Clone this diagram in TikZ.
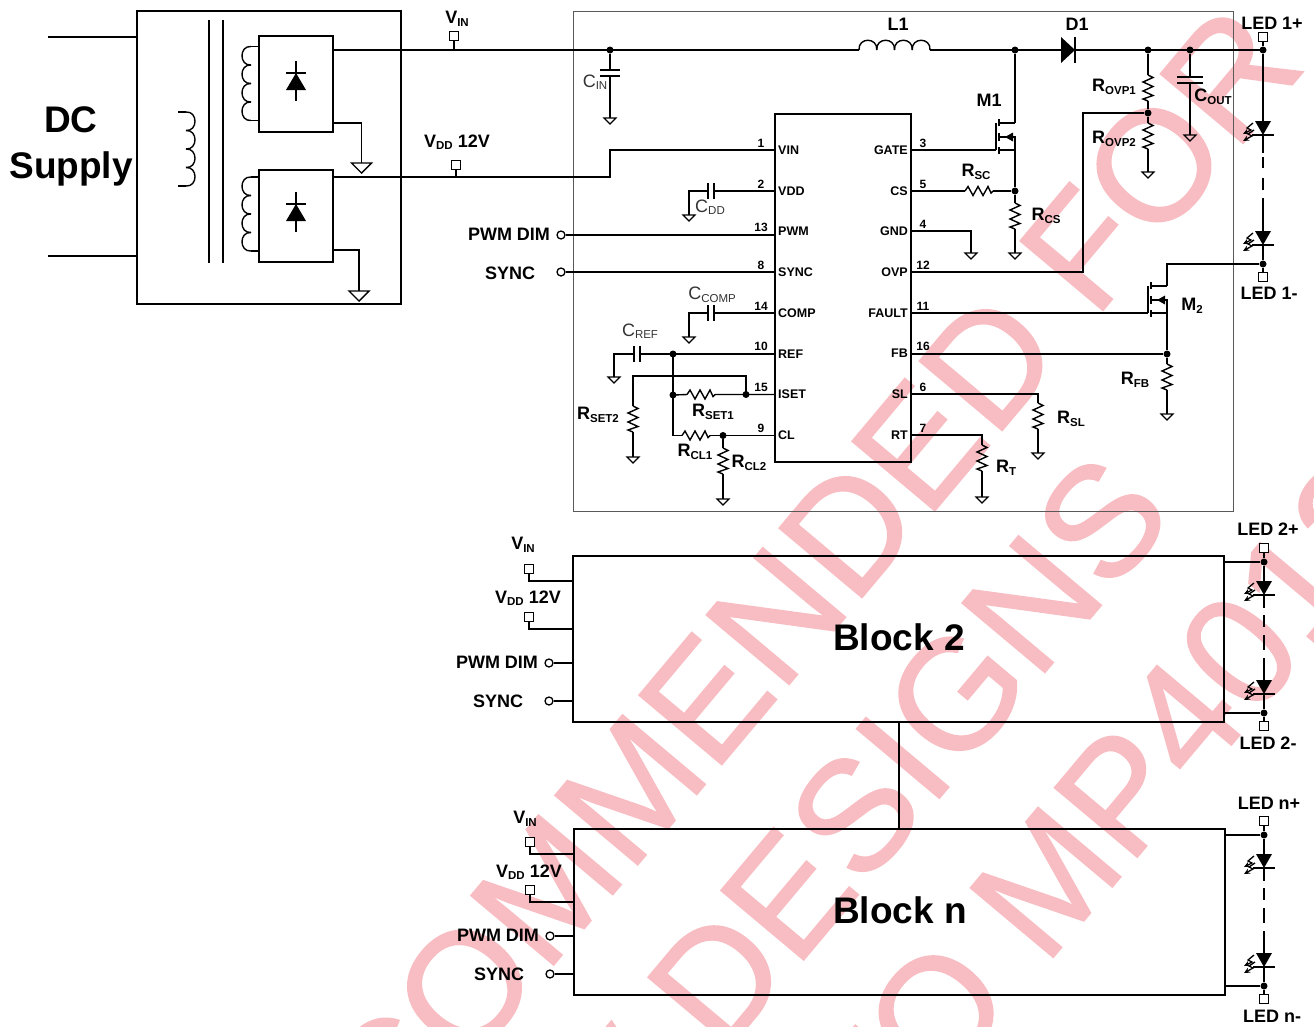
\documentclass[tikz,border=0pt]{standalone}
\usepackage{fontspec}
\setmainfont{Liberation Sans}
\newfontfamily\wmfont[FakeBold=1]{Liberation Sans}
\usetikzlibrary{arrows.meta}
\definecolor{wm}{HTML}{F8BDC2}
\newcommand\lb[2]{{\fontsize{18}{18}\selectfont #1\raisebox{-2.5pt}{\fontsize{11.5}{11.5}\selectfont #2}}}
\tikzset{
  wire/.style={line width=1.4pt,line join=miter,line cap=butt},
  dashw/.style={line width=1.8pt,line join=miter,line cap=butt},
  dot/.style={circle,fill=black,inner sep=0pt,minimum size=7pt},
  term/.style={rectangle,draw=black,fill=white,line width=1.4pt,inner sep=0pt,minimum size=9pt},
  pad/.style={circle,draw=black,fill=white,line width=1.3pt,inner sep=0pt,minimum size=8pt},
  box/.style={rectangle,draw=black,line width=1.4pt,inner sep=0pt},
  graybox/.style={rectangle,draw=black!65,line width=0.9pt,inner sep=0pt},
  lab/.style={inner sep=0pt,font=\bfseries\fontsize{18}{18}\selectfont},
  capl/.style={inner sep=0pt,text=black!80,font=\fontsize{18}{18}\selectfont},
  big/.style={inner sep=0pt,font=\bfseries\fontsize{37}{40}\selectfont,align=center},
  pinl/.style={inner sep=0pt,anchor=west,font=\bfseries\fontsize{12.5}{13}\selectfont},
  pinr/.style={inner sep=0pt,anchor=east,font=\bfseries\fontsize{12.5}{13}\selectfont},
  num/.style={inner sep=0pt,font=\bfseries\fontsize{12}{13}\selectfont},
  water/.style={inner sep=0pt,rotate=50,anchor=base east,text=wm,font=\wmfont\fontsize{157}{157}\selectfont},
  resv/.pic={\coordinate (-a) at (0,-13); \coordinate (-b) at (0,13);
    \draw[wire] (0,-13) -- (5,-10.5) -- (-5,-6) -- (5,-1.5) -- (-5,3) -- (5,7.5) -- (-5,11) -- (0,13);},
  resh/.pic={\coordinate (-a) at (-14,0); \coordinate (-b) at (14,0);
    \draw[wire] (-14,0) -- (-11,-4.5) -- (-6,4.5) -- (-1,-4.5) -- (4,4.5) -- (9,-4.5) -- (12,2) -- (14,0);},
  gnd/.pic={\coordinate (-t) at (0,0);
    \draw[wire,line width=1.2pt,line join=miter] (-6,0) -- (6,0) -- (0,6) -- cycle;},
  gndb/.pic={\coordinate (-t) at (0,0);
    \draw[wire,line join=miter] (-10,0) -- (10,0) -- (0,10) -- cycle;},
  pics/capv/.style={code={\coordinate (-a) at (0,-3); \coordinate (-b) at (0,3);
    \draw[wire] (-#1,-3) -- (#1,-3) (-#1,3) -- (#1,3);}},
  pics/caph/.style={code={\coordinate (-a) at (-3,0); \coordinate (-b) at (3,0);
    \draw[wire] (-3,-#1) -- (-3,#1) (3,-#1) -- (3,#1);}},
  coil/.pic={\coordinate (-a) at (0,0); \coordinate (-b) at (0,74);
    \draw[wire] (0,0) -- (8,0);
    \draw[wire] (0,74) -- (8,74);
    \foreach \i in {0,1,2,3}{
      \draw[wire] (8,{\i*18.5}) .. controls (20,{\i*18.5-1}) and (20,{(\i+1)*18.5+1}) .. (8,{(\i+1)*18.5});}},
  hcoil/.pic={\coordinate (-a) at (0,0); \coordinate (-b) at (71,0);
    \foreach \i in {0,1,2,3}{
      \draw[wire] ({\i*17.75},0) .. controls ({\i*17.75-1},-13) and ({(\i+1)*17.75+1},-13) .. ({(\i+1)*17.75},0);}},
  dbar/.pic={\draw[wire] (0,-12) -- (0,28) (-10,0) -- (10,0);
    \fill (0,0) -- (10,17) -- (-10,17) -- cycle;},
  dmain/.pic={\coordinate (-a) at (0,0); \coordinate (-k) at (14,0);
    \fill (0,-13) -- (14,0) -- (0,13) -- cycle;
    \draw[wire] (14,-13) -- (14,13);},
  mos/.pic={\coordinate (-g) at (-3,13); \coordinate (-d) at (16,-14); \coordinate (-s) at (16,13);
    \draw[wire] (-3,-14) -- (-3,13);
    \draw[wire] (0,-18) -- (0,-11) (0,-4) -- (0,4) (0,10) -- (0,17);
    \draw[wire] (0,-14) -- (16,-14) (0,0) -- (16,0) -- (16,13) -- (0,13);
    \fill (6,0) -- (14,-4.5) -- (14,4.5) -- cycle;},
  led/.pic={\coordinate (-a) at (0,0); \coordinate (-k) at (0,14);
    \fill (-8,0) -- (8,0) -- (0,14) -- cycle;
    \draw[wire] (-11,14) -- (11,14);
    \draw[line width=1.3pt,-{Stealth[length=6pt,width=5.5pt]}] (-10,2) -- (-16,7) -- (-12,9) -- (-20,13);
    \draw[line width=1.3pt,-{Stealth[length=6pt,width=5.5pt]}] (-9,9) -- (-15,13) -- (-11,15) -- (-20,20);},
}
\begin{document}
\begin{tikzpicture}[x=1pt,y=-1pt]
\useasboundingbox (0,0) rectangle (1314,1026);
% watermark
\begin{scope}
\clip (0,0) rectangle (1314,1026);
\node[water] (wm1) at (1308,66) {RECOMMENDED FOR};
\node[water] (wm2) at (1177,515) {NEW DESIGNS};
\node[water] (wm3) at (1421,519) {TO MP4012};
\end{scope}
% boxes
\node[graybox,minimum width=660pt,minimum height=500pt] (main) at (903,261) {};
\node[box,minimum width=264pt,minimum height=293pt] (supply) at (269,157.5) {};
\node[box,minimum width=74pt,minimum height=96pt] (rb1) at (296,84) {};
\node[box,minimum width=74pt,minimum height=92pt] (rb2) at (296,216) {};
\node[box,minimum width=136pt,minimum height=348pt] (ic) at (843,288) {};
\node[big] (dc) at (71,146) {DC\\[6pt]Supply};
% transformer
\coordinate (dcA) at (48,37); \coordinate (dcAe) at (137,37);
\coordinate (dcB) at (48,256); \coordinate (dcBe) at (137,256);
\draw[wire] (dcA) -- (dcAe) (dcB) -- (dcBe);
\pic at (178,112) {coil};
\coordinate (coreAt) at (209,20); \coordinate (coreAb) at (209,263);
\coordinate (coreBt) at (223,20); \coordinate (coreBb) at (223,263);
\draw[wire] (coreAt) -- (coreAb) (coreBt) -- (coreBb);
\pic[xscale=-1] at (259,46.5) {coil};
\pic[xscale=-1] at (259,177) {coil};
\pic at (296,73) {dbar};
\pic at (296,204) {dbar};
% supply outputs
\coordinate (o1) at (333,50); \coordinate (o2) at (333,177);
\coordinate (g1a) at (333,123); \coordinate (g2a) at (333,250);
\pic (g1) at (361.5,163) {gndb};
\pic (g2) at (359,291) {gndb};
\draw[wire] (g1a) -| (g1-t);
\draw[wire] (g2a) -| (g2-t);
\node[term] (tvin) at (454,36) {};
\node[term] (tvdd) at (456,165) {};
\coordinate (vinT) at (454,50); \coordinate (vddT) at (456,177);
\draw[wire] (tvin) -- (vinT) (tvdd) -- (vddT);
\node[lab] (lvin) at (457,19) {\lb{V}{IN}};
\node[lab] (lvdd) at (457,142) {\lb{V}{DD} 12V};
% main rail
\node[dot] (jcin) at (610,50) {};
\pic (L1) at (859,50) {hcoil};
\node[dot] (jm) at (1015,50) {};
\pic (D1) at (1061,50) {dmain};
\node[dot] (jr) at (1148,50) {};
\node[dot] (jc) at (1190,50) {};
\node[dot] (jl) at (1263,50) {};
\draw[wire] (o1) -- (jcin.center) -- (L1-a) (L1-b) -- (jm.center) -- (D1-a) (D1-k) -- (jr.center) -- (jc.center) -- (jl.center);
\node[lab] (lL1) at (898,24) {L1};
\node[lab] (lD1) at (1077,24) {D1};
\pic (cin) at (610,73) {capv=10};
\pic (gcin) at (610,118) {gnd};
\draw[wire] (jcin) -- (cin-a) (cin-b) -- (gcin-t);
\node[capl] (lcin) at (595,82) {\lb{C}{IN}};
% pins
\coordinate (pVIN) at (775,150); \coordinate (pVDD) at (775,191); \coordinate (pPWM) at (775,235);
\coordinate (pSYNC) at (775,272); \coordinate (pCOMP) at (775,313); \coordinate (pREF) at (775,354);
\coordinate (pISET) at (775,394.5); \coordinate (pCL) at (775,435.5);
\coordinate (pGATE) at (911,150); \coordinate (pCS) at (911,191); \coordinate (pGND) at (911,231);
\coordinate (pOVP) at (911,272); \coordinate (pFAULT) at (911,313); \coordinate (pFB) at (911,354);
\coordinate (pSL) at (911,394); \coordinate (pRT) at (911,435);
\foreach \n/\t/\y in {a/VIN/150,b/VDD/191,c/PWM/231,d/SYNC/272,e/COMP/313,f/REF/354,g/ISET/394,h/CL/435}
  \node[pinl] (pl\n) at (778,\y) {\t};
\foreach \n/\t/\y in {a/GATE/150,b/CS/191,c/GND/231,d/OVP/272,e/FAULT/313,f/FB/353,g/SL/394,h/RT/435}
  \node[pinr] (pr\n) at (908,\y) {\t};
\foreach \n/\t/\y in {a/1/143,b/2/184,c/13/227,d/8/265,e/14/306,f/10/346,g/15/387,h/9/428}
  \node[num] (nl\n) at (761,\y) {\t};
\foreach \n/\t/\y in {a/3/143,b/5/184,c/4/224,d/12/265,e/11/306,f/16/346,g/6/387,h/7/428}
  \node[num] (nr\n) at (923,\y) {\t};
% VDD to VIN pin
\coordinate (bend) at (610,177);
\draw[wire] (o2) -- (bend) |- (pVIN);
% CDD
\pic (cdd) at (711,191) {caph=8};
\coordinate (cddb) at (689,191);
\pic (gcdd) at (689,215) {gnd};
\draw[wire] (pVDD) -- (cdd-b) (cdd-a) -- (cddb) -- (gcdd-t);
\node[capl] (lcdd) at (710,207) {\lb{C}{DD}};
% PWM SYNC
\node[pad] (ppwm) at (561,235) {};
\node[pad] (psync) at (561,272) {};
\draw[wire] (ppwm) -- (pPWM) (psync) -- (pSYNC);
\node[lab] (lpwm) at (509,234) {PWM DIM};
\node[lab] (lsync) at (510,273) {SYNC};
% CCOMP
\pic (ccomp) at (711,313) {caph=8};
\coordinate (ccb) at (689,313);
\pic (gcomp) at (689,337) {gnd};
\draw[wire] (pCOMP) -- (ccomp-b) (ccomp-a) -- (ccb) -- (gcomp-t);
\node[capl] (lcomp) at (712,295) {\lb{C}{COMP}};
% CREF
\node[dot] (jref) at (673,354) {};
\pic (cref) at (637,354) {caph=8};
\coordinate (crb) at (614,354);
\pic (gref) at (614,377) {gnd};
\draw[wire] (pREF) -- (jref.center) -- (cref-b) (cref-a) -- (crb) -- (gref-t);
\node[capl] (lcref) at (640,331) {\lb{C}{REF}};
% RSET1
\node[dot] (jset) at (673,395) {};
\pic (rset1) at (701,394.5) {resh};
\node[dot] (jiset) at (746,394.5) {};
\draw[wire] (jset.center) -- (rset1-a) (rset1-b) -- (jiset.center) -- (pISET);
\node[lab] (lrs1) at (713,412) {\lb{R}{SET1}};
% RSET2
\coordinate (isTop) at (746,376); \coordinate (isLeft) at (633,376);
\pic (rset2) at (633,419) {resv};
\pic (gset2) at (633,457) {gnd};
\draw[wire] (jiset.center) -- (isTop) -- (isLeft) -- (rset2-a) (rset2-b) -- (gset2-t);
\node[lab] (lrs2) at (598,415) {\lb{R}{SET2}};
% CL
\coordinate (clc) at (673,435.5);
\pic (rcl1) at (696,435.5) {resh};
\node[dot] (jcl) at (723,435.5) {};
\draw[wire] (jref.center) -- (jset.center) -- (clc) -- (rcl1-a) (rcl1-b) -- (jcl.center) -- (pCL);
\node[lab] (lrc1) at (695,452) {\lb{R}{CL1}};
\pic (rcl2) at (723,461) {resv};
\pic (gcl2) at (723,499) {gnd};
\draw[wire] (jcl) -- (rcl2-a) (rcl2-b) -- (gcl2-t);
\node[lab] (lrc2) at (749,463) {\lb{R}{CL2}};
% M1
\pic (m1) at (999,137) {mos};
\draw[wire] (pGATE) -- (m1-g) (jm) -- (m1-d);
\node[lab] (lm1) at (989,100) {M1};
\node[dot] (jcs) at (1015,191) {};
\draw[wire] (m1-s) -- (jcs);
\pic (rsc) at (979,191) {resh};
\draw[wire] (pCS) -- (rsc-a) (rsc-b) -- (jcs);
\node[lab] (lrsc) at (976,172) {\lb{R}{SC}};
\pic (rcs) at (1015,216) {resv};
\pic (gcs) at (1015,253) {gnd};
\draw[wire] (jcs) -- (rcs-a) (rcs-b) -- (gcs-t);
\node[lab] (lrcs) at (1046,216) {\lb{R}{CS}};
% GND
\pic (ggnd) at (971,253) {gnd};
\draw[wire] (pGND) -| (ggnd-t);
% OVP
\node[dot] (jovp) at (1148,113) {};
\coordinate (ovpb) at (1083,272); \coordinate (ovpt) at (1083,113);
\draw[wire] (pOVP) -- (ovpb) -- (ovpt) -- (jovp);
\pic (rov1) at (1148,88) {resv};
\pic (rov2) at (1148,136) {resv};
\pic (gov) at (1148,172) {gnd};
\draw[wire] (jr) -- (rov1-a) (rov1-b) -- (jovp) -- (rov2-a) (rov2-b) -- (gov-t);
\node[lab] (lro1) at (1114,87) {\lb{R}{OVP1}};
\node[lab] (lro2) at (1114,139) {\lb{R}{OVP2}};
% COUT
\pic (cout) at (1190,80) {capv=13};
\pic (gout) at (1190,135) {gnd};
\draw[wire] (jc) -- (cout-a) (cout-b) -- (gout-t);
\node[lab] (lcout) at (1213,97) {\lb{C}{OUT}};
% LED 1
\node[term] (t1p) at (1263,37) {};
\pic (l1a) at (1263,121) {led};
\pic (l1b) at (1263,231) {led};
\node[dot] (j1n) at (1263,264) {};
\node[term] (t1n) at (1263,277) {};
\draw[wire] (t1p) -- (jl) -- (l1a-a);
\draw[dashw,dash pattern=on 18pt off 4pt on 11pt off 10pt on 12pt off 8pt on 40pt] (l1a-k) -- (l1b-a);
\draw[wire] (l1b-k) -- (j1n) -- (t1n);
\node[lab] (ll1p) at (1272,23) {LED 1+};
\node[lab] (ll1n) at (1269,293) {LED 1-};
% M2
\pic (m2) at (1151,300) {mos};
\coordinate (m2t) at (1167,264);
\draw[wire] (j1n) -- (m2t) -- (m2-d);
\draw[wire] (pFAULT) -- (m2-g);
\node[lab] (lm2) at (1192,306) {\lb{M}{2}};
\node[dot] (jfb) at (1167,354) {};
\draw[wire] (m2-s) -- (jfb) (pFB) -- (jfb);
\pic (rfb) at (1167,377) {resv};
\pic (gfb) at (1167,414) {gnd};
\draw[wire] (jfb) -- (rfb-a) (rfb-b) -- (gfb-t);
\node[lab] (lrfb) at (1135,380) {\lb{R}{FB}};
% SL
\coordinate (slc) at (1038,394);
\pic (rsl) at (1038,416) {resv};
\pic (gsl) at (1038,453) {gnd};
\draw[wire] (pSL) -- (slc) -- (rsl-a) (rsl-b) -- (gsl-t);
\node[lab] (lrsl) at (1071,419) {\lb{R}{SL}};
% RT
\coordinate (rtc) at (982,435);
\pic (rrt) at (982,458) {resv};
\pic (grt) at (982,497) {gnd};
\draw[wire] (pRT) -- (rtc) -- (rrt-a) (rrt-b) -- (grt-t);
\node[lab] (lrt) at (1006,468) {\lb{R}{T}};
% Block 2
\node[box,minimum width=651pt,minimum height=166pt] (b2) at (898.5,639) {};
\node[big] (lb2) at (899,637) {Block 2};
\node[term] (tb2v) at (529,569) {};
\node[term] (tb2d) at (529,617) {};
\coordinate (b2v) at (573,581); \coordinate (b2d) at (573,629);
\draw[wire] (tb2v) |- (b2v);
\draw[wire] (tb2d) |- (b2d);
\node[lab] (lb2v) at (523,545) {\lb{V}{IN}};
\node[lab] (lb2d) at (528,598) {\lb{V}{DD} 12V};
\node[pad] (pb2p) at (549,663) {}; \node[pad] (pb2s) at (549,701) {};
\coordinate (b2p) at (573,663); \coordinate (b2s) at (573,701);
\draw[wire] (pb2p) -- (b2p) (pb2s) -- (b2s);
\node[lab] (lb2p) at (497,662) {PWM DIM};
\node[lab] (lb2s) at (498,701) {SYNC};
\node[term] (t2p) at (1264,548) {};
\node[dot] (j2p) at (1264,562) {};
\coordinate (b2rt) at (1224,562);
\pic (l2a) at (1264,581) {led};
\pic (l2b) at (1264,680) {led};
\node[dot] (j2n) at (1264,713) {};
\coordinate (b2rb) at (1224,713);
\node[term] (t2n) at (1264,726) {};
\draw[wire] (b2rt) -- (j2p) (t2p) -- (j2p) -- (l2a-a);
\draw[dashw,dash pattern=on 13pt off 7pt on 12pt off 8pt on 15pt off 8pt on 40pt] (l2a-k) -- (l2b-a);
\draw[wire] (l2b-k) -- (j2n) -- (t2n) (j2n) -- (b2rb);
\node[lab] (ll2p) at (1268,529) {LED 2+};
\node[lab] (ll2n) at (1268,743) {LED 2-};
% Block n
\node[box,minimum width=651pt,minimum height=166pt] (bn) at (899.5,912) {};
\node[big] (lbn) at (900,910) {Block n};
\coordinate (linkA) at (899,722); \coordinate (linkB) at (899,829);
\draw[wire] (linkA) -- (linkB);
\node[term] (tbnv) at (530,842) {};
\node[term] (tbnd) at (530,890) {};
\coordinate (bnv) at (574,854); \coordinate (bnd) at (574,902);
\draw[wire] (tbnv) |- (bnv);
\draw[wire] (tbnd) |- (bnd);
\node[lab] (lbnv) at (525,819) {\lb{V}{IN}};
\node[lab] (lbnd) at (529,872) {\lb{V}{DD} 12V};
\node[pad] (pbnp) at (550,936) {}; \node[pad] (pbns) at (550,974) {};
\coordinate (bnp) at (574,936); \coordinate (bns) at (574,974);
\draw[wire] (pbnp) -- (bnp) (pbns) -- (bns);
\node[lab] (lbnp) at (498,935) {PWM DIM};
\node[lab] (lbns) at (499,974) {SYNC};
\node[term] (tnp) at (1264,821) {};
\node[dot] (jnp) at (1264,835) {};
\coordinate (bnrt) at (1225,835);
\pic (lna) at (1264,854) {led};
\pic (lnb) at (1264,953) {led};
\node[dot] (jnn) at (1264,986) {};
\coordinate (bnrb) at (1225,986);
\node[term] (tnn) at (1264,999) {};
\draw[wire] (bnrt) -- (jnp) (tnp) -- (jnp) -- (lna-a);
\draw[dashw,dash pattern=on 13pt off 7pt on 12pt off 8pt on 15pt off 8pt on 40pt] (lna-k) -- (lnb-a);
\draw[wire] (lnb-k) -- (jnn) -- (tnn) (jnn) -- (bnrb);
\node[lab] (llnp) at (1269,803) {LED n+};
\node[lab] (llnn) at (1272,1016) {LED n-};
\end{tikzpicture}
\end{document}
